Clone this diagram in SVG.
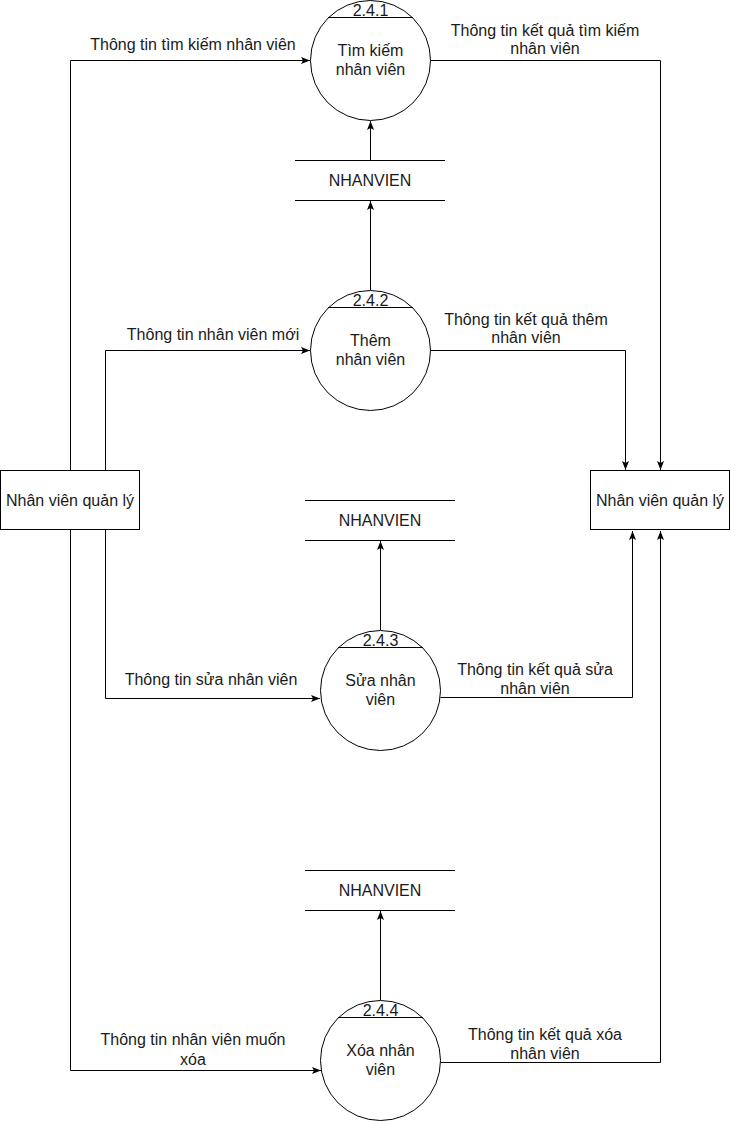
<svg xmlns="http://www.w3.org/2000/svg" width="731" height="1121" viewBox="0 0 731 1121">
  <style>
    .shape { fill: #ffffff; stroke: #000000; stroke-width: 1; }
    .hdr { stroke: #000000; stroke-width: 1; fill: none; }
    .store { stroke: #000000; stroke-width: 1; fill: none; }
    .edge { fill: none; stroke: #000000; stroke-width: 1; marker-end: url(#arrow); }
    text { font-family: "Liberation Sans", Arial, sans-serif; font-size: 16px; fill: #1a1a1a; text-anchor: middle; }
  </style>
  <defs>
    <marker id="arrow" markerUnits="userSpaceOnUse" markerWidth="10" markerHeight="8" refX="9" refY="3.5" orient="auto">
      <path d="M0,0 L9,3.5 L0,7 L2,3.5 Z" fill="#000000"/>
    </marker>
  </defs>

  <rect width="731" height="1121" fill="#ffffff"/>

  <!-- connectors -->
  <g id="connectors">
    <!-- search -->
    <path class="edge" d="M70.5,470 L70.5,60.5 L310,60.5"/>
    <text x="193" y="50">Thông tin tìm kiếm nhân viên</text>
    <path class="edge" d="M430.5,60.5 L660.5,60.5 L660.5,470"/>
    <text x="545" y="36">Thông tin kết quả tìm kiếm</text>
    <text x="545" y="54">nhân viên</text>
    <path class="edge" d="M370.5,160.5 L370.5,121"/>
    <!-- add -->
    <path class="edge" d="M370.5,290.5 L370.5,201"/>
    <path class="edge" d="M105.5,470 L105.5,350.5 L310,350.5"/>
    <text x="213" y="340">Thông tin nhân viên mới</text>
    <path class="edge" d="M430.5,350.5 L625.5,350.5 L625.5,470"/>
    <text x="526" y="325">Thông tin kết quả thêm</text>
    <text x="526" y="343">nhân viên</text>
    <!-- edit -->
    <path class="edge" d="M380.5,630.5 L380.5,541"/>
    <path class="edge" d="M105.5,530 L105.5,698.5 L320,698.5"/>
    <text x="211" y="685">Thông tin sửa nhân viên</text>
    <path class="edge" d="M440.5,697.5 L632.5,697.5 L632.5,531"/>
    <text x="535" y="675">Thông tin kết quả sửa</text>
    <text x="535" y="694">nhân viên</text>
    <!-- delete -->
    <path class="edge" d="M380.5,1000.5 L380.5,911"/>
    <path class="edge" d="M70.5,530 L70.5,1070.5 L321,1070.5"/>
    <text x="193" y="1045">Thông tin nhân viên muốn</text>
    <text x="193" y="1065">xóa</text>
    <path class="edge" d="M440.5,1062.5 L660.5,1062.5 L660.5,531"/>
    <text x="545" y="1040">Thông tin kết quả xóa</text>
    <text x="545" y="1059">nhân viên</text>
  </g>

  <!-- external entities -->
  <g id="entity-left">
    <rect class="shape" x="0.5" y="470.5" width="139" height="59"/>
    <text x="70" y="506">Nhân viên quản lý</text>
  </g>
  <g id="entity-right">
    <rect class="shape" x="590.5" y="470.5" width="139" height="59"/>
    <text x="660" y="506">Nhân viên quản lý</text>
  </g>

  <!-- processes -->
  <g id="process-241">
    <circle class="shape" cx="370.5" cy="60.5" r="60"/>
    <line class="hdr" x1="328" y1="17.5" x2="413" y2="17.5"/>
    <text x="370.5" y="16">2.4.1</text>
    <text x="370.5" y="56">Tìm kiếm</text>
    <text x="370.5" y="75">nhân viên</text>
  </g>
  <g id="process-242">
    <circle class="shape" cx="370.5" cy="350.5" r="60"/>
    <line class="hdr" x1="328" y1="307.5" x2="413" y2="307.5"/>
    <text x="370.5" y="306">2.4.2</text>
    <text x="370.5" y="346">Thêm</text>
    <text x="370.5" y="365">nhân viên</text>
  </g>
  <g id="process-243">
    <circle class="shape" cx="380.5" cy="690.5" r="60"/>
    <line class="hdr" x1="338" y1="647.5" x2="423" y2="647.5"/>
    <text x="380.5" y="646">2.4.3</text>
    <text x="380.5" y="686">Sửa nhân</text>
    <text x="380.5" y="705">viên</text>
  </g>
  <g id="process-244">
    <circle class="shape" cx="380.5" cy="1060.5" r="60"/>
    <line class="hdr" x1="338" y1="1017.5" x2="423" y2="1017.5"/>
    <text x="380.5" y="1016">2.4.4</text>
    <text x="380.5" y="1056">Xóa nhân</text>
    <text x="380.5" y="1075">viên</text>
  </g>

  <!-- data stores -->
  <g id="store-1">
    <line class="store" x1="295" y1="160.5" x2="445" y2="160.5"/>
    <line class="store" x1="295" y1="200.5" x2="445" y2="200.5"/>
    <text x="370" y="186">NHANVIEN</text>
  </g>
  <g id="store-2">
    <line class="store" x1="305" y1="500.5" x2="455" y2="500.5"/>
    <line class="store" x1="305" y1="540.5" x2="455" y2="540.5"/>
    <text x="380" y="526">NHANVIEN</text>
  </g>
  <g id="store-3">
    <line class="store" x1="305" y1="870.5" x2="455" y2="870.5"/>
    <line class="store" x1="305" y1="910.5" x2="455" y2="910.5"/>
    <text x="380" y="896">NHANVIEN</text>
  </g>
</svg>
